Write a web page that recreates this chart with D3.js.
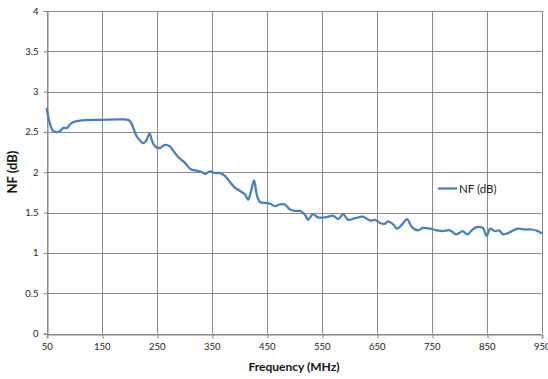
<!DOCTYPE html>
<html><head><meta charset="utf-8">
<script src="https://cdn.jsdelivr.net/npm/d3@7"></script>
<style>body{margin:0;background:#fff}svg{display:block}</style>
</head><body>
<script>
const freqs = [50,54,60,65,74,80,87,92,98,110,147,183,198,203,209,214,220,225,230,237,241,247,256,265,274,283,292,301,311,329,338,347,356,365,375,383,392,401,411,416,421,427,432,438,447,456,465,474,483,492,501,511,520,525,534,543,556,571,580,589,598,611,625,638,647,656,665,670,679,687,696,705,714,725,734,747,759,770,783,794,801,806,815,823,832,843,850,856,865,872,880,887,896,907,920,932,943,950];
const nfValues = [2.80,2.65,2.53,2.50,2.51,2.55,2.55,2.59,2.62,2.64,2.65,2.655,2.65,2.62,2.52,2.44,2.39,2.36,2.38,2.48,2.40,2.32,2.30,2.34,2.32,2.24,2.17,2.12,2.04,2.01,1.98,2.01,1.99,1.99,1.95,1.88,1.81,1.77,1.72,1.66,1.75,1.90,1.72,1.63,1.62,1.61,1.58,1.60,1.60,1.54,1.52,1.52,1.47,1.41,1.48,1.44,1.44,1.46,1.42,1.48,1.41,1.43,1.45,1.40,1.41,1.37,1.36,1.39,1.36,1.30,1.35,1.42,1.32,1.28,1.31,1.30,1.28,1.27,1.28,1.23,1.25,1.27,1.23,1.28,1.32,1.31,1.21,1.30,1.27,1.28,1.23,1.24,1.27,1.30,1.29,1.29,1.27,1.24];
const xTicks = [50,150,250,350,450,550,650,750,850,950];
const yTicks = [0,0.5,1,1.5,2,2.5,3,3.5,4];
const seriesName = "NF (dB)";
const xTitle = "Frequency (MHz)";
const yTitle = "NF (dB)";

const W = 548, H = 379;
const font = "Lato, 'Liberation Sans', sans-serif";
const svg = d3.select("body").append("svg").attr("width", W).attr("height", H);
const x = d3.scaleLinear().domain([50, 950]).range([46.7, 541.7]);
const y = d3.scaleLinear().domain([0, 4]).range([333.5, 11]);
const grid = "#8a8a8a";

// gridlines
svg.append("g").selectAll("line").data(yTicks).join("line")
  .attr("x1", x(50)).attr("x2", x(950))
  .attr("y1", d => Math.round(y(d)) + 0.5).attr("y2", d => Math.round(y(d)) + 0.5)
  .attr("stroke", grid).attr("stroke-width", 1);
svg.append("g").selectAll("line").data(xTicks).join("line")
  .attr("y1", y(4)).attr("y2", y(0))
  .attr("x1", d => Math.round(x(d)) + 0.5).attr("x2", d => Math.round(x(d)) + 0.5)
  .attr("stroke", grid).attr("stroke-width", 1);

// axes
const xAxis = svg.append("g").attr("transform", `translate(0,${Math.round(y(0)) + 0.5})`)
  .call(d3.axisBottom(x).tickValues(xTicks).tickFormat(d3.format("d")).tickSizeOuter(0).tickSize(4).tickPadding(5));
const yAxis = svg.append("g").attr("transform", `translate(${Math.round(x(50)) + 0.5},0)`)
  .call(d3.axisLeft(y).tickValues(yTicks).tickFormat(d => String(d)).tickSizeOuter(0).tickSize(4).tickPadding(5));
[xAxis, yAxis].forEach(g => {
  g.select(".domain").attr("stroke", "#868686");
  g.selectAll(".tick line").attr("stroke", "#868686");
  g.selectAll(".tick text").attr("fill", "#222").style("font-family", font).style("font-size", "9.5px");
});
xAxis.selectAll(".tick line").attr("transform", d => `translate(${Math.round(x(d)) + 0.5 - x(d)},0)`);

// line
const line = d3.line().x((d, i) => x(freqs[i])).y(d => y(d)).curve(d3.curveCatmullRom.alpha(0.5));
svg.append("path").datum(nfValues).attr("d", line)
  .attr("fill", "none").attr("stroke", "#4A7EBB").attr("stroke-width", 2.25)
  .attr("stroke-linejoin", "round");

// axis titles
svg.append("text").attr("x", 294).attr("y", 371).attr("text-anchor", "middle")
  .style("font-family", font).style("font-weight", "bold").style("font-size", "12px").attr("fill", "#111")
  .text(xTitle);
svg.append("text").attr("transform", "translate(16.5,172) rotate(-90)").attr("text-anchor", "middle")
  .style("font-family", font).style("font-weight", "bold").style("font-size", "13px").attr("fill", "#111")
  .text(yTitle);

// legend
const lg = svg.append("g");
lg.append("line").attr("x1", 438).attr("x2", 457).attr("y1", 188.5).attr("y2", 188.5)
  .attr("stroke", "#4A7EBB").attr("stroke-width", 2.25);
lg.append("text").attr("x", 459).attr("y", 192.5)
  .style("font-family", font).style("font-size", "11.5px").attr("fill", "#222").text(seriesName);
</script>
</body></html>
